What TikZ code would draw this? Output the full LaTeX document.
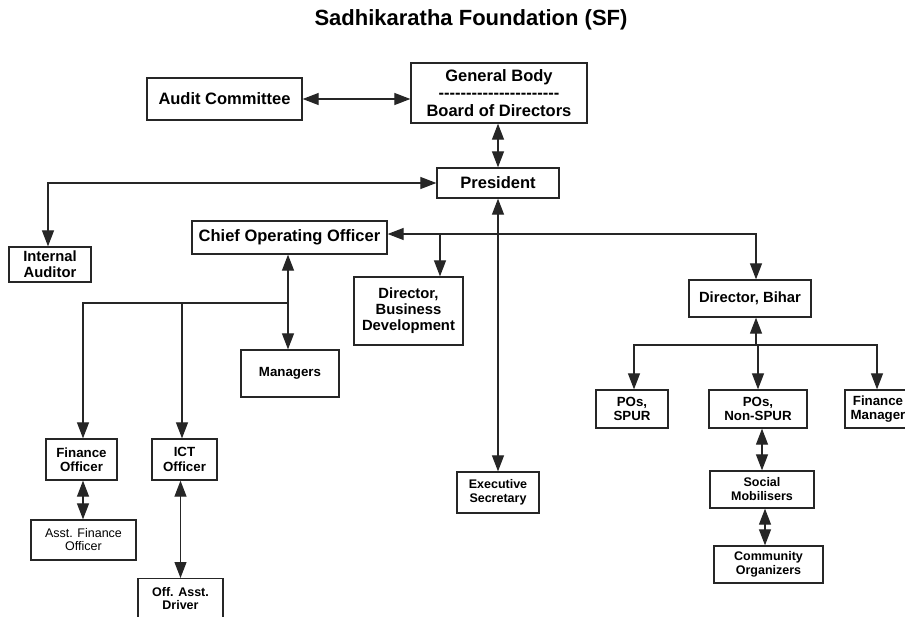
\documentclass[tikz,border=0pt]{standalone}
\usepackage{fontspec}
\setmainfont{Liberation Sans}
\usetikzlibrary{arrows.meta}
\newcommand\hy{\mbox{-}}
\tikzset{
  box/.style={draw=black!85, line width=1.3pt, inner sep=0pt, align=center, text=black},
  fbig/.style={font=\fontsize{16.5}{18.5}\selectfont\bfseries},
  fmid/.style={font=\fontsize{14.8}{16}\selectfont\bfseries},
  fms/.style={font=\fontsize{13.3}{14.5}\selectfont\bfseries},
  fsm/.style={font=\fontsize{12.5}{14}\selectfont\bfseries},
  freg/.style={font=\fontsize{12.5}{13}\selectfont},
  conn/.style={line width=1.2pt, draw=black!85},
  one/.style={conn, -{Triangle[length=16pt,width=12pt]}},
  two/.style={conn, {Triangle[length=16pt,width=12pt]}-{Triangle[length=16pt,width=12pt]}},
}
\begin{document}
\begin{tikzpicture}[x=1pt,y=-1pt]
\useasboundingbox (0,0) rectangle (905,616);
\clip (0,0) rectangle (905,616);
% title
\node[font=\fontsize{22}{24}\selectfont\bfseries] (title) at (471,20) {Sadhikaratha Foundation (SF)};
% nodes
\node[box,fbig,minimum width=155pt,minimum height=42pt] (audit) at (224.5,99) {Audit Committee};
\node[box,fbig,minimum width=176pt,minimum height=60pt] (gb) at (499,93) {General Body\\[-1pt]\hy\hy\hy\hy\hy\hy\hy\hy\hy\hy\hy\hy\hy\hy\hy\hy\hy\hy\hy\hy\hy\hy\\[-1pt]Board of Directors};
\node[box,fbig,minimum width=122pt,minimum height=30pt] (pres) at (498,183) {President};
\node[box,fmid,minimum width=82pt,minimum height=35pt] (ia) at (50,264.5) {Internal\\Auditor};
\node[box,fbig,minimum width=195pt,minimum height=33pt] (coo) at (289.5,237.5) {Chief Operating Officer};
\node[box,fmid,minimum width=109pt,minimum height=68pt] (dbd) at (408.5,311) {Director,\\Business\\Development};
\node[box,fms,minimum width=98pt,minimum height=47pt] (mgr) at (290,373.5) {Managers};
\node[box,fms,minimum width=71pt,minimum height=41pt] (fo) at (81.5,459.5) {Finance\\Officer};
\node[box,fms,minimum width=65pt,minimum height=41pt] (ict) at (184.5,459.5) {ICT\\Officer};
\node[box,freg,minimum width=105pt,minimum height=40pt] (afo) at (83.5,540) {Asst. Finance\\Officer};
\node[box,fsm,minimum width=85pt,minimum height=40pt,anchor=north] (drv) at (180.5,578) {Off. Asst.\\[-1pt]Driver};
\node[box,fsm,minimum width=82pt,minimum height=41pt] (es) at (498,492.5) {Executive\\Secretary};
\node[box,fmid,minimum width=122pt,minimum height=37pt] (db) at (750,298.5) {Director, Bihar};
\node[box,fms,minimum width=72pt,minimum height=38pt] (pos) at (632,409) {POs,\\SPUR};
\node[box,fms,minimum width=98pt,minimum height=38pt] (posn) at (758,409) {POs,\\Non-SPUR};
\node[box,fms,minimum width=66pt,minimum height=38pt] (fm) at (878,409) {Finance\\Manager};
\node[box,fsm,minimum width=104pt,minimum height=37pt] (sm) at (762,489.5) {Social\\Mobilisers};
\node[box,fsm,minimum width=109pt,minimum height=37pt] (co) at (768.5,564.5) {Community\\Organizers};
% connectors
\draw[two] (audit.east) -- (audit.east -| gb.west);
\draw[two] (pres.north |- gb.south) -- (pres.north);
\draw[two] (pres.west) -| ([xshift=-2pt]ia.north);
\draw[two] (pres.south) -- (pres.south |- es.north);
\coordinate (cooe) at ([yshift=3.5pt]coo.east);
\draw[two] (cooe) -| ([xshift=6pt]db.north);
\draw[one] ([xshift=31.5pt]dbd.north |- cooe) -- ([xshift=31.5pt]dbd.north);
\draw[two] ([xshift=-1.5pt]coo.south) -- ([xshift=-1.5pt]coo.south |- mgr.north);
\coordinate (br) at (287,303);
\draw[one] (br) -| ([xshift=1.5pt]fo.north);
\draw[one] ([xshift=-2.5pt]ict.north |- br) -- ([xshift=-2.5pt]ict.north);
\draw[two] ([xshift=1.5pt]fo.south) -- ([xshift=1.5pt]fo.south |- afo.north);
\draw[two] (drv.north |- ict.south) -- (drv.north);
\coordinate (jb) at (756,345);
\draw[one] (jb) -- (jb |- db.south);
\draw[one] (jb) -| ([xshift=2pt]pos.north);
\draw[one] (jb) -| ([xshift=-1pt]fm.north);
\draw[one] (posn.north |- jb) -- (posn.north);
\draw[two] (sm.north |- posn.south) -- (sm.north);
\draw[two] ([xshift=3pt]sm.south) -- ([xshift=3pt]sm.south |- co.north);
\end{tikzpicture}
\end{document}
